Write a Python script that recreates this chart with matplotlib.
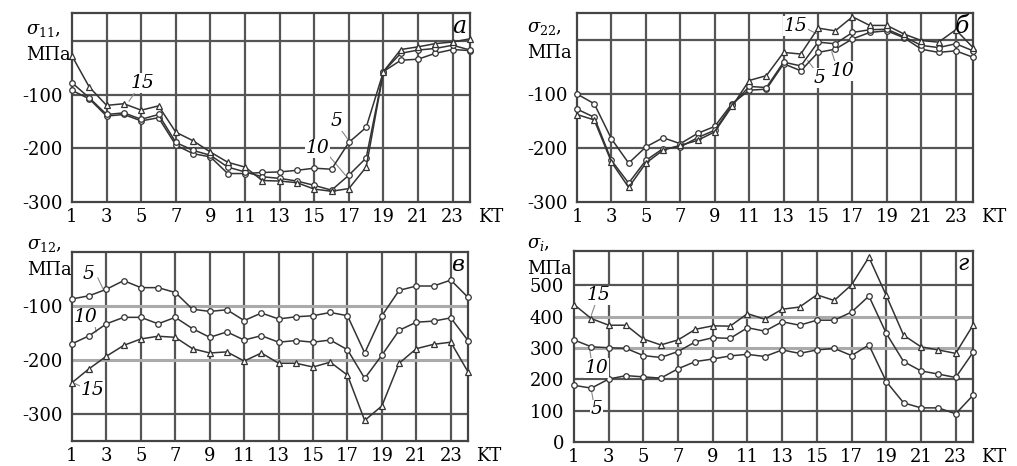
import numpy as np
import matplotlib.pyplot as plt

plt.rcParams['font.family'] = 'DejaVu Serif'
plt.rcParams['mathtext.fontset'] = 'dejavuserif'
plt.rcParams['font.size'] = 13

W, H = 1017, 466

# КТ (контрольные точки)
kt = np.arange(1, 25)

# σ11
a5 = [-92, -108, -140, -137, -149, -143, -194, -210, -216, -247, -247, -245,
      -244, -241, -237, -239, -189, -161, -57, -36, -34, -23, -16, -18]
a10 = [-78, -106, -137, -134, -146, -137, -189, -204, -213, -235, -244, -253,
       -256, -261, -269, -278, -250, -218, -57, -23, -17, -14, -8, -17]
a15 = [-28, -86, -120, -117, -129, -121, -170, -186, -207, -226, -235, -260,
       -261, -264, -276, -280, -275, -235, -57, -16, -11, -5, -2, 4]

# σ22
b5 = [-100, -118, -183, -228, -198, -181, -192, -173, -160, -118, -93, -91,
      -44, -57, -23, -17, 2, 14, 17, 4, -17, -23, -20, -32]
b10 = [-128, -143, -223, -265, -223, -201, -198, -181, -167, -121, -86, -88,
       -41, -48, -4, -7, 14, 19, 20, 6, -10, -14, -7, -20]
b15 = [-138, -148, -226, -273, -228, -204, -195, -186, -170, -123, -75, -66,
       -23, -26, 22, 17, 43, 27, 27, 11, -1, -4, 19, -14]

# σ12
c5 = [-87, -81, -69, -53, -66, -66, -75, -106, -110, -107, -127, -113,
      -124, -120, -118, -112, -118, -187, -118, -71, -63, -63, -52, -84]
c10 = [-170, -155, -133, -121, -121, -133, -121, -142, -158, -148, -163, -155,
       -167, -164, -167, -163, -181, -234, -191, -145, -130, -128, -122, -164]
c15 = [-242, -216, -193, -173, -161, -156, -158, -179, -187, -185, -202, -187,
       -206, -206, -213, -204, -228, -312, -285, -206, -179, -171, -167, -222]

# σi
d5 = [181, 172, 201, 212, 208, 204, 234, 257, 265, 275, 280, 273,
      294, 283, 294, 299, 276, 310, 193, 125, 109, 109, 90, 149]
d10 = [326, 304, 301, 299, 276, 270, 289, 320, 333, 331, 365, 354,
       384, 373, 389, 389, 415, 466, 347, 257, 227, 217, 206, 286]
d15 = [439, 394, 373, 373, 329, 310, 326, 360, 371, 370, 410, 392,
       424, 431, 470, 452, 502, 590, 468, 341, 304, 294, 283, 373]

line_c = '#333333'
grid_dark = '#555555'
grid_light = '#aaaaaa'


def px_box(l, t, r, b):
    return [l / W, 1 - b / H, (r - l) / W, (b - t) / H]


fig = plt.figure(figsize=(W / 100, H / 100), dpi=100)


def panel(box, ylim, yticks, hdark, hlight, series, letter, letter_fs):
    ax = fig.add_axes(px_box(*box))
    ax.set_xlim(1, 24)
    ax.set_ylim(*ylim)
    for x in range(3, 24, 2):
        ax.axvline(x, color=grid_dark, lw=1.6, zorder=1)
    for y in hdark:
        ax.axhline(y, color=grid_dark, lw=1.6, zorder=1)
    for y in hlight:
        ax.axhline(y, color=grid_light, lw=2.2, zorder=1)
    for vals, mk in series:
        ax.plot(kt, vals, color=line_c, lw=1.1, marker=mk, ms=4,
                mfc='white', mec=line_c, mew=0.9, zorder=3, clip_on=False)
    ax.set_xticks(range(1, 24, 2))
    ax.set_yticks(yticks)
    ax.set_yticklabels([str(v) for v in yticks])
    ax.tick_params(axis='x', length=0, pad=4, labelsize=13)
    ax.tick_params(axis='y', length=0, pad=7, labelsize=13)
    for s in ax.spines.values():
        s.set_color('#444444')
        s.set_linewidth(1.6)
    ax.annotate('KT', xy=(1, 0), xycoords='axes fraction', xytext=(6, -4),
                textcoords='offset points', ha='left', va='top', fontsize=13)
    ax.text(0.99, 0.99, letter, transform=ax.transAxes, ha='right', va='top',
            style='italic', fontsize=letter_fs, zorder=5)
    return ax


def curve_label(ax, txt, x, y, x0, y0, x1, y1):
    ax.plot([x0, x1], [y0, y1], color='#888888', lw=0.8, zorder=2)
    ax.text(x, y, txt, ha='center', va='center', style='italic', fontsize=13.5,
            zorder=4, bbox=dict(facecolor='white', edgecolor='none', pad=0.5))


ax_a = panel((72, 13, 470, 202), (-300, 52), [-300, -200, -100],
             [0, -100, -200], [], [(a5, 'o'), (a10, 'o'), (a15, '^')], 'а', 17)
curve_label(ax_a, '15', 5.1, -78, 4.7, -93, 4.3, -112)
curve_label(ax_a, '5', 16.3, -150, 16.6, -168, 17.0, -186)
curve_label(ax_a, '10', 15.2, -200, 15.8, -212, 16.8, -250)

ax_b = panel((577, 13, 973, 202), (-300, 50), [-300, -200, -100],
             [0, -100, -200], [], [(b5, 'o'), (b10, 'o'), (b15, '^')], 'б', 17)
curve_label(ax_b, '15', 13.7, 26, 14.4, 20, 14.9, 12)
curve_label(ax_b, '5', 15.1, -70, 14.8, -55, 14.4, -38)
curve_label(ax_b, '10', 16.4, -57, 16.0, -42, 15.8, -22)

ax_c = panel((72, 252, 468, 441), (-350, 0), [-300, -200, -100],
             [-300], [-100, -200], [(c5, 'o'), (c10, 'o'), (c15, '^')], 'в', 16)
curve_label(ax_c, '5', 1.95, -40, 2.5, -48, 2.8, -68)
curve_label(ax_c, '10', 1.8, -121, 2.3, -130, 2.4, -148)
curve_label(ax_c, '15', 2.2, -256, 1.6, -250, 1.2, -244)

ax_d = panel((574, 251, 973, 442), (0, 610), [0, 100, 200, 300, 400, 500],
             [100, 200, 500], [300, 400], [(d5, 'o'), (d10, 'o'), (d15, '^')], 'г', 16)
curve_label(ax_d, '15', 2.4, 468, 2.2, 437, 2.0, 405)
curve_label(ax_d, '10', 2.3, 236, 2.0, 262, 1.9, 298)
curve_label(ax_d, '5', 2.3, 104, 2.1, 135, 2.0, 166)


def ylab(px, py, top):
    fig.text(px / W, 1 - py / H, top, ha='left', va='center', fontsize=13)
    fig.text(px / W, 1 - (py + 25) / H, 'МПа', ha='left', va='center', fontsize=13)


ylab(26, 30, r'$\sigma_{11}$,')
ylab(527, 28, r'$\sigma_{22}$,')
ylab(27, 245, r'$\sigma_{12}$,')
ylab(527, 244, r'$\sigma_{i}$,')

fig.savefig('out.png', dpi=100)
